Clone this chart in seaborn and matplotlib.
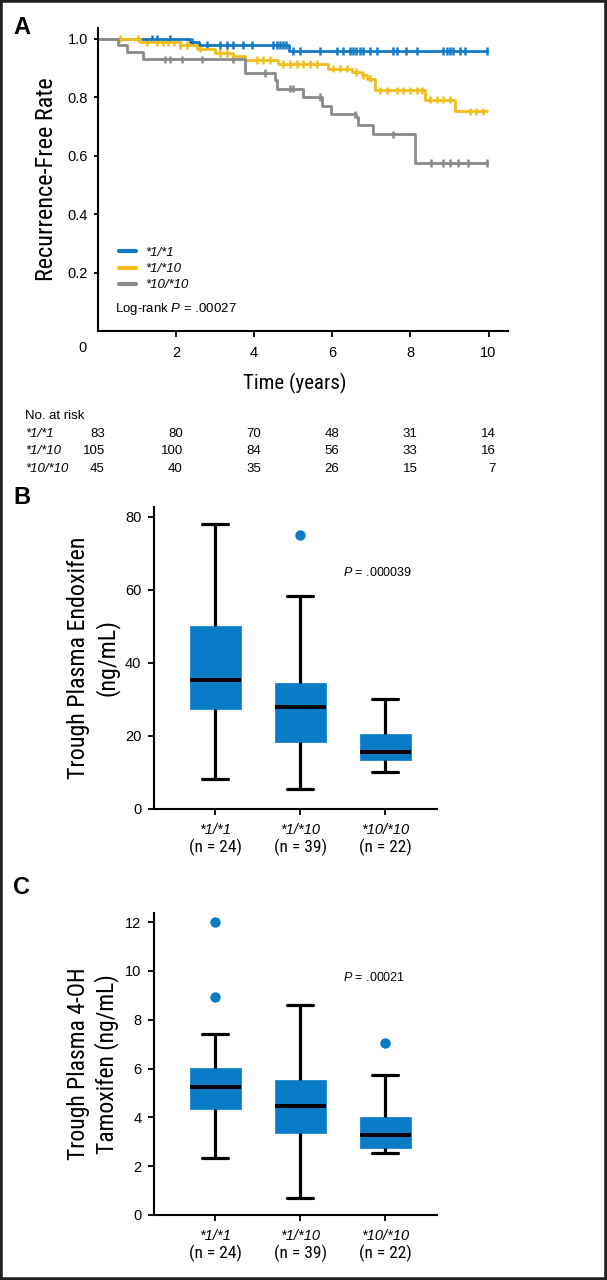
import matplotlib
matplotlib.use('Agg')
import numpy as np
import pandas as pd
import matplotlib.pyplot as plt
import seaborn as sns
from matplotlib import font_manager, transforms
from matplotlib.patches import Rectangle

sns.set_style('ticks')
installed = {f.name for f in font_manager.fontManager.ttflist}
narrow_choices = ['Roboto Condensed', 'Arial Narrow', 'Liberation Sans Narrow', 'PT Sans Narrow',
                  'Archivo Narrow', 'Fira Sans Condensed', 'IBM Plex Sans Condensed',
                  'Encode Sans Condensed', 'Barlow Semi Condensed', 'Open Sans Condensed']
narrow = next((f for f in narrow_choices if f in installed), 'DejaVu Sans')
plt.rcParams['font.family'] = ['Liberation Sans', 'DejaVu Sans']
plt.rcParams['mathtext.fontset'] = 'custom'
plt.rcParams['mathtext.it'] = 'Liberation Sans:italic'
plt.rcParams['mathtext.rm'] = 'Liberation Sans'
for k in ['text.color', 'axes.labelcolor', 'xtick.color', 'ytick.color', 'axes.edgecolor']:
    plt.rcParams[k] = 'black'

# --- data: panel A (Kaplan-Meier) ---
groups = ['*1/*1', '*1/*10', '*10/*10']
colors = ['#1479C4', '#F2BE1A', '#8A8A8A']

t_11 = [0, 2.36, 2.6, 4.9, 9.95]
s_11 = [1.0, 0.989, 0.977, 0.958, 0.958]
t_110 = [0, 1.08, 2.1, 2.53, 3.0, 3.47, 3.77, 4.62, 5.9, 6.5, 6.75, 6.88, 7.09, 8.37, 9.14, 9.95]
s_110 = [1.0, 0.989, 0.977, 0.966, 0.951, 0.94, 0.926, 0.914, 0.897, 0.886, 0.874, 0.863, 0.823, 0.791, 0.751, 0.751]
t_1010 = [0, 0.53, 0.74, 1.15, 3.77, 4.54, 4.6, 5.26, 5.73, 5.98, 6.62, 6.66, 7.05, 8.12, 9.95]
s_1010 = [1.0, 0.977, 0.954, 0.929, 0.882, 0.857, 0.829, 0.8, 0.771, 0.741, 0.731, 0.706, 0.672, 0.575, 0.575]

cens_11 = [1.38, 1.51, 1.85, 2.40, 2.79, 3.13, 3.30, 3.47, 3.73, 3.94, 4.49, 4.58, 4.66, 4.75, 4.83,
           5.0, 5.18, 5.69, 6.11, 6.28, 6.45, 6.54, 6.62, 6.71, 6.79, 6.97, 7.14, 7.56, 7.65, 7.90,
           8.16, 8.84, 8.93, 9.01, 9.10, 9.27, 9.39, 9.95]
cens_110 = [0.57, 1.04, 1.25, 1.51, 1.68, 1.81, 1.94, 2.11, 2.28, 2.62, 3.13, 3.30, 4.07, 4.24, 4.41,
            4.75, 4.92, 5.09, 5.26, 5.43, 5.60, 6.03, 6.20, 6.37, 6.62, 6.79, 6.97, 7.22, 7.39, 7.65,
            7.82, 7.99, 8.16, 8.29, 8.50, 8.67, 8.84, 9.01, 9.52, 9.69, 9.86]
cens_1010 = [1.72, 1.85, 2.15, 2.66, 3.47, 4.28, 4.92, 5.0, 5.69, 6.58, 7.56, 8.54, 8.84, 9.01, 9.22, 9.48, 9.95]

risk_times = [0, 2, 4, 6, 8, 10]
risk_11 = [83, 80, 70, 48, 31, 14]
risk_110 = [105, 100, 84, 56, 33, 16]
risk_1010 = [45, 40, 35, 26, 15, 7]

# --- data: panels B and C (box summaries: whisker low, q1, median, q3, whisker high) ---
n_labels = ['(n = 24)', '(n = 39)', '(n = 22)']
endox_lo = [8.2, 5.5, 10.1]
endox_q1 = [27.4, 18.4, 13.4]
endox_med = [35.3, 28.0, 15.6]
endox_q3 = [50.1, 34.5, 20.5]
endox_hi = [78.1, 58.4, 30.1]
endox_out_geno = ['*1/*10']
endox_out = [75.1]

oht_lo = [2.32, 0.68, 2.53]
oht_q1 = [4.33, 3.35, 2.73]
oht_med = [5.26, 4.46, 3.27]
oht_q3 = [6.04, 5.52, 4.03]
oht_hi = [7.41, 8.61, 5.73]
oht_out_geno = ['*1/*1', '*1/*1', '*10/*10']
oht_out = [12.0, 8.92, 7.04]

box_blue = '#0A7BC6'

fig = plt.figure(figsize=(6.07, 12.8), dpi=100)

# ================= Panel A =================
axA = fig.add_axes([0.161, 0.7414, 0.676, 0.2367])
km = pd.concat([pd.DataFrame({'time': t, 'surv': s, 'group': g})
                for t, s, g in [(t_11, s_11, groups[0]), (t_110, s_110, groups[1]), (t_1010, s_1010, groups[2])]])
sns.lineplot(data=km, x='time', y='surv', hue='group', hue_order=groups, palette=colors,
             drawstyle='steps-post', estimator=None, sort=False, linewidth=2.0, ax=axA)

# censoring marks sit on the step curve
cens_rows = []
for t, s, c, g in [(t_11, s_11, cens_11, groups[0]), (t_110, s_110, cens_110, groups[1]),
                   (t_1010, s_1010, cens_1010, groups[2])]:
    idx = np.searchsorted(t, c, side='right') - 1
    cens_rows.append(pd.DataFrame({'time': c, 'surv': np.array(s)[idx], 'group': g}))
cens = pd.concat(cens_rows)
sns.scatterplot(data=cens, x='time', y='surv', hue='group', hue_order=groups, palette=colors,
                marker='|', s=30, linewidth=1.8, legend=False, ax=axA)

axA.set_xlim(0, 10.5)
axA.set_ylim(0, 1.036)
axA.set_xticks([2, 4, 6, 8, 10])
axA.set_yticks([0.2, 0.4, 0.6, 0.8, 1.0])
axA.set_yticklabels(['0.2', '0.4', '0.6', '0.8', '1.0'])
axA.tick_params(axis='x', length=4, width=1.3, pad=7, labelsize=10.5)
axA.tick_params(axis='y', length=3, width=1.3, pad=4, labelsize=10.5)
axA.text(-0.38, -0.057, '0', transform=transforms.blended_transform_factory(axA.transData, axA.transAxes),
         ha='center', va='center', fontsize=10.5)
for sp in ['left', 'bottom']:
    axA.spines[sp].set_linewidth(1.5)
sns.despine(ax=axA)
axA.set_xlabel('Time (years)', fontsize=15, family=narrow)
axA.xaxis.label.set_va('center')
axA.xaxis.set_label_coords(0.479, -0.172)
axA.set_ylabel('Recurrence-Free Rate', fontsize=17.5, family=narrow)
axA.yaxis.label.set_va('center')
axA.yaxis.set_label_coords(-0.125, 0.5)

handles, labels = axA.get_legend_handles_labels()
leg = axA.legend(handles, groups, loc='upper left', bbox_to_anchor=(0.035, 0.30), frameon=False,
                 handlelength=1.3, handletextpad=0.7, labelspacing=0.3, borderpad=0,
                 prop={'style': 'italic', 'size': 9.5})
for line in leg.get_lines():
    line.set_linewidth(3)
axA.text(0.042, 0.073, 'Log-rank $P$ = .00027', transform=axA.transAxes, ha='left', va='center', fontsize=9.5)

# number at risk table
tr = transforms.blended_transform_factory(axA.transData, fig.transFigure)
fig.text(0.041, 1 - 416 / 1280, 'No. at risk', ha='left', va='center', fontsize=9.5)
for row, (g, vals) in enumerate(zip(groups, [risk_11, risk_110, risk_1010])):
    y = 1 - (434 + row * 17.5) / 1280
    fig.text(0.041, y, g, ha='left', va='center', fontsize=9.5, style='italic')
    for t, v in zip(risk_times, vals):
        axA.text(t + 0.18, y, str(v), transform=tr, ha='right', va='center', fontsize=9.5)


# ================= Panels B and C =================
def box_panel(ax, lo, q1, med, q3, hi, out_geno, out_vals, ylim, yticks, ylabel, ylabel_size, ptext, py):
    box_df = pd.DataFrame({
        'genotype': np.repeat(groups, 5),
        'value': np.ravel(np.column_stack([lo, q1, med, q3, hi])),
    })
    out_df = pd.DataFrame({'genotype': out_geno, 'value': out_vals})
    sns.boxplot(data=box_df, x='genotype', y='value', order=groups, color=box_blue, saturation=1,
                width=0.6, whis=(0, 100), showfliers=False, linecolor='black', linewidth=2.3,
                boxprops=dict(edgecolor=box_blue, linewidth=0.5),
                medianprops=dict(color='black', linewidth=2.8), ax=ax)
    sns.stripplot(data=out_df, x='genotype', y='value', order=groups, color=box_blue, jitter=False,
                  size=7.5, linewidth=0, ax=ax)
    ax.set_xlim(-0.72, 2.61)
    ax.set_ylim(*ylim)
    ax.set_yticks(yticks)
    ax.set_xticks([0, 1, 2])
    ax.set_xticklabels(groups, style='italic', fontsize=10.5)
    ax.tick_params(axis='x', length=4, width=1.3, pad=6)
    ax.tick_params(axis='y', length=4, width=1.3, pad=5, labelsize=10.5)
    for sp in ['left', 'bottom']:
        ax.spines[sp].set_linewidth(1.5)
    sns.despine(ax=ax)
    ax.set_xlabel('')
    ax.set_ylabel(ylabel, fontsize=ylabel_size, family=narrow, linespacing=1.2)
    ax.yaxis.label.set_va('center')
    ax.yaxis.set_label_coords(-0.215, 0.5)
    trn = transforms.blended_transform_factory(ax.transData, ax.transAxes)
    for i, n in enumerate(n_labels):
        ax.text(i, -0.127, n, transform=trn, ha='center', va='center', fontsize=12.5, family=narrow)
    ax.text(1.504, py, ptext, ha='left', va='center', fontsize=9)


axB = fig.add_axes([0.2537, 0.368, 0.4663, 0.236])
box_panel(axB, endox_lo, endox_q1, endox_med, endox_q3, endox_hi, endox_out_geno, endox_out,
          (0, 82.7), [0, 20, 40, 60, 80], 'Trough Plasma Endoxifen\n(ng/mL)', 17.3, '$P$ = .000039', 64.7)

axC = fig.add_axes([0.2537, 0.0508, 0.4663, 0.2359])
box_panel(axC, oht_lo, oht_q1, oht_med, oht_q3, oht_hi, oht_out_geno, oht_out,
          (0, 12.37), [0, 2, 4, 6, 8, 10, 12], 'Trough Plasma 4-OH\nTamoxifen (ng/mL)', 17, '$P$ = .00021', 9.71)

# panel letters
for letter, ypix in [('A', 27), ('B', 497), ('C', 887)]:
    fig.text(0.0214, 1 - ypix / 1280, letter, fontsize=17, weight='bold', ha='left', va='center')

fig.patches.append(Rectangle((0, 0), 1, 1, transform=fig.transFigure, fill=False,
                             edgecolor='#222222', linewidth=4))

fig.savefig('out.png', dpi=100)
